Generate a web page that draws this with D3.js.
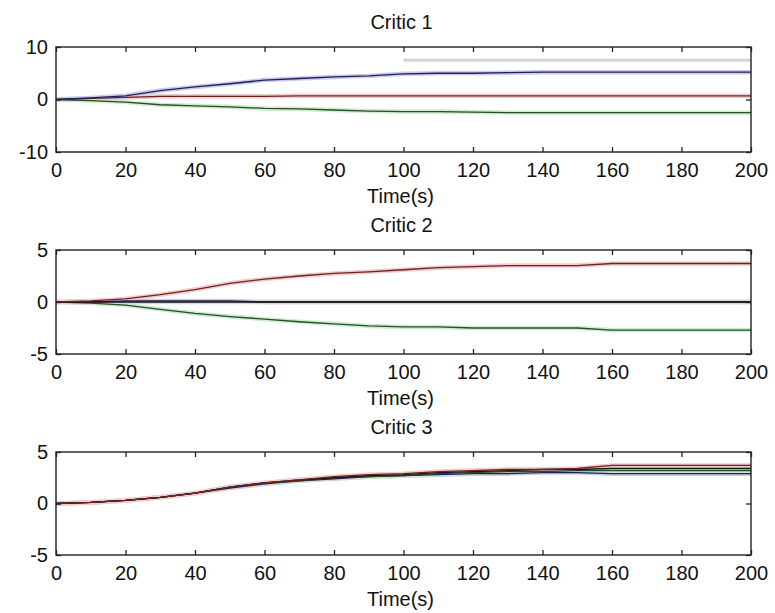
<!DOCTYPE html>
<html lang="en">
<head>
    <meta charset="UTF-8">
    <title>Critic weights</title>
    <script src="https://d3js.org/d3.v7.min.js"></script>
    <style>
        body { margin: 0; background: #fff; }
        svg { display: block; }
        text { font-family: "Liberation Sans", Arial, sans-serif; fill: #111; }
    </style>
</head>
<body>
    <div id="chart"></div>
    <script>
        // time axis, one reading every 10 s
        var times = [0, 10, 20, 30, 40, 50, 60, 70, 80, 90, 100, 110, 120, 130, 140, 150, 160, 170, 180, 190, 200];
        var xTicks = [0, 20, 40, 60, 80, 100, 120, 140, 160, 180, 200];

        // Critic 1
        var c1Blue   = [0, 0.3, 0.7, 1.7, 2.4, 3.0, 3.7, 4.0, 4.3, 4.5, 4.9, 5.0, 5.0, 5.1, 5.2, 5.2, 5.2, 5.2, 5.2, 5.2, 5.2];
        var c1Red    = [0, 0.2, 0.4, 0.6, 0.6, 0.6, 0.6, 0.7, 0.7, 0.7, 0.7, 0.7, 0.7, 0.7, 0.7, 0.7, 0.7, 0.7, 0.7, 0.7, 0.7];
        var c1Green  = [0, -0.2, -0.5, -1.0, -1.2, -1.4, -1.7, -1.8, -2.0, -2.2, -2.3, -2.3, -2.4, -2.5, -2.5, -2.5, -2.5, -2.5, -2.5, -2.5, -2.5];
        var c1Yellow = [null, null, null, null, null, null, null, null, null, null, 7.5, 7.5, 7.5, 7.5, 7.5, 7.5, 7.5, 7.5, 7.5, 7.5, 7.5];
        var c1YTicks = [-10, 0, 10];

        // Critic 2
        var c2Red    = [0, 0.1, 0.3, 0.7, 1.2, 1.8, 2.2, 2.5, 2.75, 2.9, 3.1, 3.3, 3.4, 3.5, 3.5, 3.5, 3.7, 3.7, 3.7, 3.7, 3.7];
        var c2Blue   = [0, 0, 0.1, 0.1, 0.1, 0.1, 0, 0, 0, 0, 0, 0, 0, 0, 0, 0, 0, 0, 0, 0, 0];
        var c2Black  = [0, 0, 0, 0, 0, 0, 0, 0, 0, 0, 0, 0, 0, 0, 0, 0, 0, 0, 0, 0, 0];
        var c2Green  = [0, -0.1, -0.3, -0.7, -1.1, -1.4, -1.65, -1.9, -2.1, -2.3, -2.4, -2.4, -2.5, -2.5, -2.5, -2.5, -2.7, -2.7, -2.7, -2.7, -2.7];
        var c2YTicks = [-5, 0, 5];

        // Critic 3
        var c3Red    = [0, 0.1, 0.3, 0.6, 1.0, 1.6, 2.0, 2.3, 2.6, 2.8, 2.9, 3.1, 3.2, 3.3, 3.3, 3.4, 3.7, 3.7, 3.7, 3.7, 3.7];
        var c3Black  = [0, 0.1, 0.3, 0.6, 1.0, 1.6, 2.0, 2.3, 2.5, 2.7, 2.8, 3.0, 3.1, 3.2, 3.3, 3.3, 3.4, 3.4, 3.4, 3.4, 3.4];
        var c3Green  = [0, 0.1, 0.3, 0.6, 1.0, 1.6, 2.0, 2.2, 2.5, 2.6, 2.7, 2.9, 3.0, 3.1, 3.1, 3.2, 3.2, 3.2, 3.2, 3.2, 3.2];
        var c3Blue   = [0, 0.1, 0.3, 0.6, 1.0, 1.5, 1.9, 2.2, 2.4, 2.6, 2.7, 2.8, 2.9, 2.9, 3.0, 3.0, 2.9, 2.9, 2.9, 2.9, 2.9];
        var c3YTicks = [-5, 0, 5];

        // dark core over a pale halo (the jpeg smear in the original)
        var styles = {
            blue:   {core: "#1e1e5e", halo: "#cbcbee"},
            red:    {core: "#6e2222", halo: "#f2cccc"},
            green:  {core: "#215021", halo: "#d2ead2"},
            black:  {core: "#151515", halo: "#d6d6d6"},
            yellow: {core: "#c4c4b6", halo: "#ececE6"}
        };

        var W = 775, H = 613;
        var left = 56, right = 751;

        var panels = [
            {title: "Critic 1", top: 47, bottom: 152, domain: [-10, 10], yTicks: c1YTicks,
             series: [["yellow", c1Yellow], ["green", c1Green], ["red", c1Red], ["blue", c1Blue]]},
            {title: "Critic 2", top: 250, bottom: 354, domain: [-5, 5], yTicks: c2YTicks,
             series: [["green", c2Green], ["blue", c2Blue], ["black", c2Black], ["red", c2Red]]},
            {title: "Critic 3", top: 452, bottom: 555, domain: [-5, 5], yTicks: c3YTicks,
             series: [["blue", c3Blue], ["green", c3Green], ["black", c3Black], ["red", c3Red]]}
        ];

        var svg = d3.select("#chart").append("svg")
            .attr("width", W)
            .attr("height", H);

        var x = d3.scaleLinear().domain([0, 200]).range([left, right]);
        var plainNum = function(d) { return String(d); };   // ascii hyphen, like matlab

        panels.forEach(function(p) {
            var y = d3.scaleLinear().domain(p.domain).range([p.bottom, p.top]);
            var g = svg.append("g");

            var line = d3.line()
                .defined(function(d) { return d[1] !== null; })
                .x(function(d) { return x(d[0]); })
                .y(function(d) { return y(d[1]); });

            // halos first, then the cores
            p.series.forEach(function(s) {
                var pts = times.map(function(t, i) { return [t, s[1][i]]; });
                g.append("path")
                    .attr("d", line(pts))
                    .attr("fill", "none")
                    .attr("stroke", styles[s[0]].halo)
                    .attr("stroke-width", 4.5);
            });
            p.series.forEach(function(s) {
                var pts = times.map(function(t, i) { return [t, s[1][i]]; });
                g.append("path")
                    .attr("d", line(pts))
                    .attr("fill", "none")
                    .attr("stroke", styles[s[0]].core)
                    .attr("stroke-width", 1.3);
            });

            // ticks inward on all four sides
            var bottomAxis = d3.axisBottom(x).tickValues(xTicks).tickSize(-5).tickPadding(11).tickFormat(plainNum);
            var topAxis = d3.axisTop(x).tickValues(xTicks).tickSize(-5).tickFormat("");
            var leftAxis = d3.axisLeft(y).tickValues(p.yTicks).tickSize(-5).tickPadding(8).tickFormat(plainNum);
            var rightAxis = d3.axisRight(y).tickValues(p.yTicks).tickSize(-5).tickFormat("");

            g.append("g").attr("transform", "translate(0," + p.bottom + ")").call(bottomAxis);
            g.append("g").attr("transform", "translate(0," + p.top + ")").call(topAxis);
            g.append("g").attr("transform", "translate(" + left + ",0)").call(leftAxis);
            g.append("g").attr("transform", "translate(" + right + ",0)").call(rightAxis);

            g.selectAll(".domain").remove();
            g.selectAll(".tick line").attr("stroke", "#222").attr("stroke-width", 1.3);
            g.selectAll(".tick text").style("font-size", "20px").attr("fill", "#111");

            g.append("rect")
                .attr("x", left)
                .attr("y", p.top)
                .attr("width", right - left)
                .attr("height", p.bottom - p.top)
                .attr("fill", "none")
                .attr("stroke", "#222")
                .attr("stroke-width", 1.4);

            g.append("text")
                .attr("x", (left + right) / 2 - 2)
                .attr("y", p.top - 18)
                .attr("text-anchor", "middle")
                .style("font-size", "20px")
                .text(p.title);

            g.append("text")
                .attr("x", (left + right) / 2 - 3)
                .attr("y", p.bottom + 51)
                .attr("text-anchor", "middle")
                .style("font-size", "20px")
                .text("Time(s)");
        });
    </script>
</body>
</html>
